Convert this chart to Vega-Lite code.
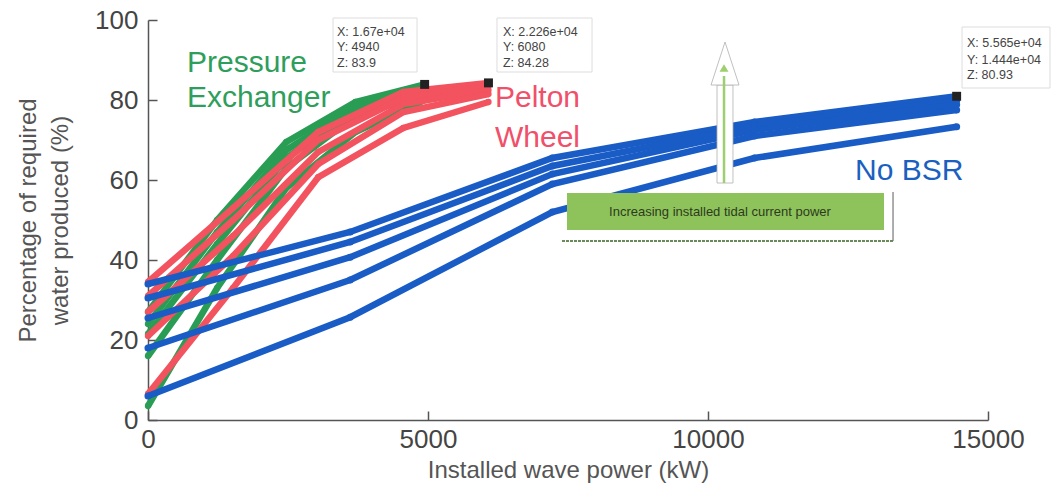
{
  "$schema": "https://vega.github.io/schema/vega-lite/v6.json",
  "width": 840,
  "height": 400,
  "autosize": "none",
  "padding": {"left": 148, "top": 20, "right": 66, "bottom": 71},
  "background": "white",
  "config": {"view": {"stroke": null}, "font": "Liberation Sans"},
  "datasets": {
    "lines": [
      {"s": "G1", "x": 0, "y": 27}, {"s": "G1", "x": 1235, "y": 50}, {"s": "G1", "x": 2470, "y": 69.5}, {"s": "G1", "x": 3705, "y": 79.5}, {"s": "G1", "x": 4940, "y": 83.9},
      {"s": "G2", "x": 0, "y": 24}, {"s": "G2", "x": 1235, "y": 47}, {"s": "G2", "x": 2470, "y": 67.5}, {"s": "G2", "x": 3705, "y": 78.5}, {"s": "G2", "x": 4940, "y": 83.3},
      {"s": "G3", "x": 0, "y": 21.5}, {"s": "G3", "x": 1235, "y": 44}, {"s": "G3", "x": 2470, "y": 65.5}, {"s": "G3", "x": 3705, "y": 77.5}, {"s": "G3", "x": 4940, "y": 82.5},
      {"s": "G4", "x": 0, "y": 16}, {"s": "G4", "x": 1235, "y": 40}, {"s": "G4", "x": 2470, "y": 63}, {"s": "G4", "x": 3705, "y": 76}, {"s": "G4", "x": 4940, "y": 81.5},
      {"s": "G5", "x": 0, "y": 3.5}, {"s": "G5", "x": 1235, "y": 33}, {"s": "G5", "x": 2470, "y": 58}, {"s": "G5", "x": 3705, "y": 72}, {"s": "G5", "x": 4940, "y": 80},
      {"s": "R1", "x": 0, "y": 34.5}, {"s": "R1", "x": 1520, "y": 53}, {"s": "R1", "x": 3040, "y": 72}, {"s": "R1", "x": 4560, "y": 82}, {"s": "R1", "x": 6080, "y": 84.28},
      {"s": "R2", "x": 0, "y": 31}, {"s": "R2", "x": 1520, "y": 50}, {"s": "R2", "x": 3040, "y": 70}, {"s": "R2", "x": 4560, "y": 80.5}, {"s": "R2", "x": 6080, "y": 83.5},
      {"s": "R3", "x": 0, "y": 27}, {"s": "R3", "x": 1520, "y": 46}, {"s": "R3", "x": 3040, "y": 67}, {"s": "R3", "x": 4560, "y": 79}, {"s": "R3", "x": 6080, "y": 82.5},
      {"s": "R4", "x": 0, "y": 21}, {"s": "R4", "x": 1520, "y": 41}, {"s": "R4", "x": 3040, "y": 64}, {"s": "R4", "x": 4560, "y": 77}, {"s": "R4", "x": 6080, "y": 81.5},
      {"s": "R5", "x": 0, "y": 6.5}, {"s": "R5", "x": 1520, "y": 33}, {"s": "R5", "x": 3040, "y": 60.7}, {"s": "R5", "x": 4560, "y": 73}, {"s": "R5", "x": 6080, "y": 79.5},
      {"s": "B1", "x": 0, "y": 34}, {"s": "B1", "x": 3610, "y": 47}, {"s": "B1", "x": 7220, "y": 65.5}, {"s": "B1", "x": 10830, "y": 74.5}, {"s": "B1", "x": 14440, "y": 80.93},
      {"s": "B2", "x": 0, "y": 30.5}, {"s": "B2", "x": 3610, "y": 44.5}, {"s": "B2", "x": 7220, "y": 63.5}, {"s": "B2", "x": 10830, "y": 73.5}, {"s": "B2", "x": 14440, "y": 79.8},
      {"s": "B3", "x": 0, "y": 25.5}, {"s": "B3", "x": 3610, "y": 40.7}, {"s": "B3", "x": 7220, "y": 61.5}, {"s": "B3", "x": 10830, "y": 72.5}, {"s": "B3", "x": 14440, "y": 78.8},
      {"s": "B4", "x": 0, "y": 18}, {"s": "B4", "x": 3610, "y": 35}, {"s": "B4", "x": 7220, "y": 59}, {"s": "B4", "x": 10830, "y": 71}, {"s": "B4", "x": 14440, "y": 77.5},
      {"s": "B5", "x": 0, "y": 6}, {"s": "B5", "x": 3610, "y": 25.7}, {"s": "B5", "x": 7220, "y": 52}, {"s": "B5", "x": 10830, "y": 65.5}, {"s": "B5", "x": 14440, "y": 73.3}
    ],
    "tips": [
      {"x": 3304, "x2": 4804, "y": 87, "y2": 100.5},
      {"x": 6232, "x2": 7929, "y": 87, "y2": 100.5},
      {"x": 14536, "x2": 16107, "y": 83, "y2": 98.25}
    ],
    "tiptext": [
      {"x": 3375, "y": 97, "t": "X: 1.67e+04"}, {"x": 3375, "y": 93.25, "t": "Y: 4940"}, {"x": 3375, "y": 89.25, "t": "Z: 83.9"},
      {"x": 6339, "y": 97, "t": "X: 2.226e+04"}, {"x": 6339, "y": 93.25, "t": "Y: 6080"}, {"x": 6339, "y": 89.25, "t": "Z: 84.28"},
      {"x": 14625, "y": 94.25, "t": "X: 5.565e+04"}, {"x": 14625, "y": 90, "t": "Y: 1.444e+04"}, {"x": 14625, "y": 86.25, "t": "Z: 80.93"}
    ],
    "markers": [
      {"x": 4940, "y": 83.9}, {"x": 6080, "y": 84.28}, {"x": 14440, "y": 80.93}
    ],
    "labels": [
      {"x": 696, "y": 87, "t": "Pressure", "g": "PX"},
      {"x": 696, "y": 78.25, "t": "Exchanger", "g": "PX"},
      {"x": 6196, "y": 78.25, "t": "Pelton", "g": "PW"},
      {"x": 6196, "y": 68.25, "t": "Wheel", "g": "PW"},
      {"x": 12625, "y": 60, "t": "No BSR", "g": "NB"}
    ],
    "box": [{"x": 7482, "x2": 13143, "y": 47.5, "y2": 56.75}],
    "boxtext": [{"x": 10214, "y": 52, "t": "Increasing installed tidal current power"}],
    "shadowh": [{"x": 7393, "x2": 13304, "y": 44.75}],
    "shadowv": [{"x": 13304, "y": 44.75, "y2": 57}],
    "arrowbody": [{"x": 10161, "x2": 10446, "y": 59.25, "y2": 83.75}],
    "arrowtip": [{"x": 10304, "y": 83.75}],
    "arrow": [{"x": 10286, "y": 59.25, "y2": 86}],
    "arrowhead": [{"x": 10286, "y": 88}]
  },
  "encoding": {
    "x": {
      "field": "x", "type": "quantitative",
      "scale": {"domain": [0, 15000], "nice": false, "zero": false},
      "axis": {
        "title": "Installed wave power (kW)", "titleFontSize": 24, "titleFontWeight": "normal", "titleColor": "#555555",
        "labelFontSize": 26, "labelColor": "#444444", "values": [0, 5000, 10000, 15000], "format": "d",
        "tickSize": -9, "labelPadding": 15, "titlePadding": 6, "grid": false,
        "domainColor": "#555555", "tickColor": "#555555", "domainWidth": 1.5, "tickWidth": 1.5, "labelFlush": false
      }
    },
    "y": {
      "field": "y", "type": "quantitative",
      "scale": {"domain": [0, 100], "nice": false, "zero": false},
      "axis": {
        "title": ["Percentage of required", "water produced (%)"], "titleFontSize": 24, "titleFontWeight": "normal", "titleColor": "#555555",
        "titleLineHeight": 32, "labelFontSize": 26, "labelColor": "#444444", "values": [0, 20, 40, 60, 80, 100],
        "tickSize": -9, "labelPadding": 19, "titlePadding": 22, "grid": false,
        "domainColor": "#555555", "tickColor": "#555555", "domainWidth": 1.5, "tickWidth": 1.5, "labelFlush": false
      }
    }
  },
  "layer": [
    {
      "data": {"name": "lines"},
      "transform": [{"filter": "slice(datum.s,0,1) == 'G'"}],
      "mark": {"type": "line", "color": "#2a9d55", "strokeWidth": 6.5, "point": {"filled": true, "size": 40, "color": "#2a9d55"}},
      "encoding": {"detail": {"field": "s"}}
    },
    {
      "data": {"name": "lines"},
      "transform": [{"filter": "slice(datum.s,0,1) == 'R'"}],
      "mark": {"type": "line", "color": "#f2535f", "strokeWidth": 6.5, "point": {"filled": true, "size": 40, "color": "#f2535f"}},
      "encoding": {"detail": {"field": "s"}}
    },
    {
      "data": {"name": "lines"},
      "transform": [{"filter": "slice(datum.s,0,1) == 'B'"}],
      "mark": {"type": "line", "color": "#1a5cc6", "strokeWidth": 6.5, "point": {"filled": true, "size": 50, "color": "#1a5cc6"}},
      "encoding": {"detail": {"field": "s"}}
    },
    {
      "data": {"name": "tips"},
      "mark": {"type": "rect", "fill": "white", "stroke": "#dddddd", "strokeWidth": 1},
      "encoding": {"x2": {"field": "x2"}, "y2": {"field": "y2"}}
    },
    {
      "data": {"name": "tiptext"},
      "mark": {"type": "text", "align": "left", "baseline": "middle", "fontSize": 12.5, "color": "#444444"},
      "encoding": {"text": {"field": "t"}}
    },
    {
      "data": {"name": "markers"},
      "mark": {"type": "point", "shape": "square", "filled": true, "size": 80, "color": "#222222", "opacity": 1}
    },
    {
      "data": {"name": "labels"},
      "mark": {"type": "text", "align": "left", "baseline": "alphabetic", "fontSize": 30},
      "encoding": {
        "text": {"field": "t"},
        "color": {"field": "g", "type": "nominal", "legend": null,
          "scale": {"domain": ["PX", "PW", "NB"], "range": ["#2e9e5b", "#f0506a", "#1b5fc0"]}}
      }
    },
    {
      "data": {"name": "shadowh"},
      "mark": {"type": "rule", "color": "#6a8a5a", "strokeWidth": 2, "strokeDash": [3, 1]},
      "encoding": {"x2": {"field": "x2"}}
    },
    {
      "data": {"name": "shadowv"},
      "mark": {"type": "rule", "color": "#777777", "strokeWidth": 1.2},
      "encoding": {"y2": {"field": "y2"}}
    },
    {
      "data": {"name": "box"},
      "mark": {"type": "rect", "fill": "#8dc35a"},
      "encoding": {"x2": {"field": "x2"}, "y2": {"field": "y2"}}
    },
    {
      "data": {"name": "boxtext"},
      "mark": {"type": "text", "align": "center", "baseline": "middle", "fontSize": 13, "color": "#2d3a1f"},
      "encoding": {"text": {"field": "t"}}
    },
    {
      "data": {"name": "arrowbody"},
      "mark": {"type": "rect", "fill": "white", "stroke": "#b0b0b0", "strokeWidth": 0.8},
      "encoding": {"x2": {"field": "x2"}, "y2": {"field": "y2"}}
    },
    {
      "data": {"name": "arrowtip"},
      "mark": {"type": "point", "shape": "M-1,0L0,-3.07L1,0Z", "filled": true, "size": 784, "color": "white", "stroke": "#b0b0b0", "strokeWidth": 0.8, "opacity": 1}
    },
    {
      "data": {"name": "arrow"},
      "mark": {"type": "rule", "color": "#9dcf6e", "strokeWidth": 2.5},
      "encoding": {"y2": {"field": "y2"}}
    },
    {
      "data": {"name": "arrowhead"},
      "mark": {"type": "point", "shape": "triangle-up", "filled": true, "size": 80, "color": "#9dcf6e", "opacity": 1}
    }
  ]
}
